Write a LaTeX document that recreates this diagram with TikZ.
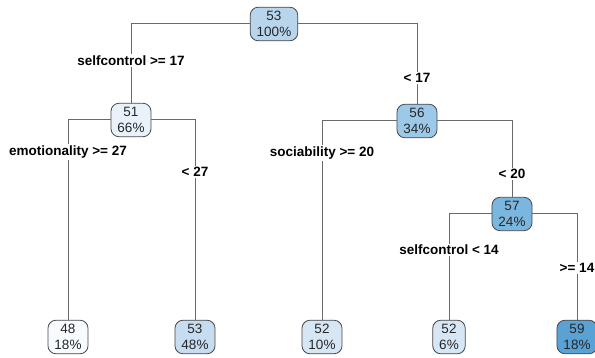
\documentclass[tikz,border=0pt]{standalone}
\usepackage{fontspec}
\setmainfont{Liberation Sans}
\definecolor{boxline}{HTML}{474747}
\definecolor{linegray}{HTML}{6A6A6A}
\definecolor{fillA}{HTML}{B8D5EC}
\definecolor{fillB}{HTML}{E9F2FB}
\definecolor{fillC}{HTML}{9DC9E8}
\definecolor{fillD}{HTML}{7BB6DF}
\definecolor{fillE}{HTML}{F7FBFF}
\definecolor{fillF}{HTML}{C6DCF0}
\definecolor{fillG}{HTML}{D6E6F5}
\definecolor{fillH}{HTML}{5AA2D3}
\begin{document}
\begin{tikzpicture}[x=1pt,y=-1pt,
  rbox/.style={draw=boxline, line width=0.8pt, rounded corners=8pt, align=center,
    font=\fontsize{13.5}{16}\selectfont, inner xsep=6.5pt, inner ysep=4pt, text=black!85},
  cond/.style={fill=white, font=\bfseries\fontsize{13.5}{16}\selectfont, inner sep=1.5pt},
  branch/.style={draw=linegray, line width=1pt}]
  \useasboundingbox (0,0) rectangle (595,358);

  % inner nodes
  \node[rbox, fill=fillA] (root) at (274,24) {53\\100\%};
  \node[rbox, fill=fillB] (n51) at (131,120) {51\\66\%};
  \node[rbox, fill=fillC] (n56) at (417,121) {56\\34\%};
  \node[rbox, fill=fillD] (n57) at (512,214) {57\\24\%};

  % leaves
  \node[rbox, fill=fillE] (n48) at (68,337) {48\\18\%};
  \node[rbox, fill=fillF] (n53) at (195,337) {53\\48\%};
  \node[rbox, fill=fillG] (n52) at (322,337) {52\\10\%};
  \node[rbox, fill=fillG] (n52b) at (449,337) {52\\6\%};
  \node[rbox, fill=fillH] (n59) at (577,337) {59\\18\%};

  % branches with split labels
  \draw[branch] (root) -| node[cond, pos=0.73] (c1) {selfcontrol >= 17} (n51);
  \draw[branch] (root) -| node[cond, pos=0.84] (c2) {< 17} (n56);
  \draw[branch] (n51) -| node[cond, pos=0.58] (c3) {emotionality >= 27} (n48);
  \draw[branch] (n51) -| node[cond, pos=0.63] (c4) {< 27} (n53);
  \draw[branch] (n56) -| node[cond, pos=0.58] (c5) {sociability >= 20} (n52);
  \draw[branch] (n56) -| node[cond, pos=0.85] (c6) {< 20} (n57);
  \draw[branch] (n57) -| node[cond, pos=0.67] (c7) {selfcontrol < 14} (n52b);
  \draw[branch] (n57) -| node[cond, pos=0.755] (c8) {>= 14} (n59);
\end{tikzpicture}
\end{document}
